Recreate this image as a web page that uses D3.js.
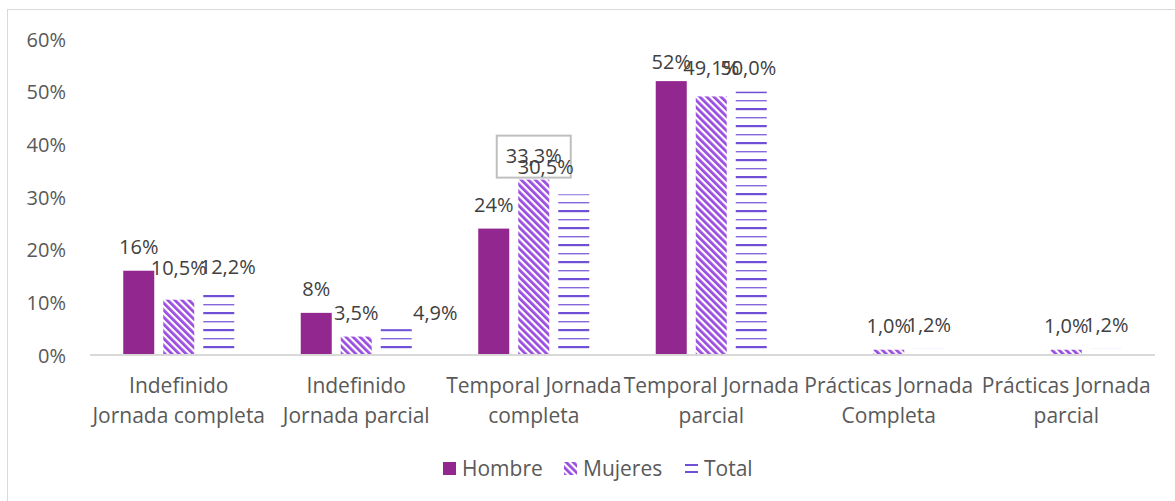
<!DOCTYPE html>
<html>
<head>
<meta charset="utf-8">
<title>Contratos por tipo</title>
<script src="https://cdn.jsdelivr.net/npm/d3@7"></script>
<style>
body { margin: 0; background: #fff; }
svg text { font-family: "Open Sans", sans-serif; }
.cat { fill: #595959; font-size: 21px; }
.lbl { fill: #404040; font-size: 20px; }
.leg { fill: #595959; font-size: 21px; }
</style>
</head>
<body>
<script>

var categories = [
  ["Indefinido", "Jornada completa"],
  ["Indefinido", "Jornada parcial"],
  ["Temporal Jornada", "completa"],
  ["Temporal Jornada", "parcial"],
  ["Prácticas Jornada", "Completa"],
  ["Prácticas Jornada", "parcial"]
];
var series = ["Hombre", "Mujeres", "Total"];
var hombre  = [0.16, 0.08, 0.24, 0.52, 0, 0];
var mujeres = [0.105, 0.035, 0.333, 0.491, 0.010, 0.010];
var total   = [0.122, 0.049, 0.305, 0.500, 0.012, 0.012];
var hombreLbl  = ["16%", "8%", "24%", "52%", "", ""];
var mujeresLbl = ["10,5%", "3,5%", "33,3%", "49,1%", "1,0%", "1,0%"];
var totalLbl   = ["12,2%", "4,9%", "30,5%", "50,0%", "1,2%", "1,2%"];
var yTicks = [0, 0.1, 0.2, 0.3, 0.4, 0.5, 0.6];

// label moves done by hand in the original
var nudge = {
  "Mujeres-0": [0, -8],
  "Total-0": [9, 0],
  "Total-1": [39, 8],
  "Total-2": [-28, -3],
  "Hombre-3": [0, 5],
  "Mujeres-3": [0, -4],
  "Total-3": [-3, 0]
};

var W = 1175, H = 501;
var mLeft = 90, mRight = 1155, mTop = 39, mBottom = 355;

var svg = d3.select("body").append("svg")
  .attr("width", W).attr("height", H);

var defs = svg.append("defs");
var pm = defs.append("pattern")
  .attr("id", "diag")
  .attr("patternUnits", "userSpaceOnUse")
  .attr("width", 5).attr("height", 5)
  .attr("patternTransform", "rotate(-45)");
pm.append("rect").attr("width", 5).attr("height", 5).attr("fill", "#fff");
pm.append("rect").attr("width", 2.8).attr("height", 5).attr("fill", "#9a4ddf");

var pt = defs.append("pattern")
  .attr("id", "horiz")
  .attr("patternUnits", "userSpaceOnUse")
  .attr("width", 10).attr("height", 17)
  .attr("y", mBottom);
pt.append("rect").attr("width", 10).attr("height", 17).attr("fill", "#fff");
pt.append("rect").attr("y", 8).attr("width", 10).attr("height", 2.2).attr("fill", "#7050d6");
pt.append("rect").attr("y", 0).attr("width", 10).attr("height", 1.4).attr("fill", "#8468dc");

var fills = {Hombre: "#92278f", Mujeres: "url(#diag)", Total: "url(#horiz)"};
var values = {Hombre: hombre, Mujeres: mujeres, Total: total};
var labels = {Hombre: hombreLbl, Mujeres: mujeresLbl, Total: totalLbl};

// outer chart border
svg.append("rect")
  .attr("x", 7.5).attr("y", 9.5)
  .attr("width", W).attr("height", H)
  .attr("fill", "none").attr("stroke", "#d9d9d9").attr("stroke-width", 1);

var x0 = d3.scaleBand()
  .domain(d3.range(categories.length))
  .range([mLeft, mRight]);

var x1 = d3.scaleBand()
  .domain(series)
  .range([0, x0.bandwidth()])
  .paddingInner(0.225)
  .paddingOuter(0.831);

var y = d3.scaleLinear()
  .domain([0, 0.6])
  .range([mBottom, mTop]);

// y axis
var yAxis = svg.append("g")
  .attr("transform", "translate(" + mLeft + ",0)")
  .call(d3.axisLeft(y).tickValues(yTicks).tickFormat(d3.format(".0%")).tickSize(0).tickPadding(24));
yAxis.select(".domain").remove();
yAxis.selectAll("text").attr("dy", "0.35em").style("font-size", "20px").style("font-family", "Open Sans").attr("fill", "#595959");

// bars
series.forEach(function(s) {
  svg.append("g").selectAll("rect")
    .data(values[s])
    .join("rect")
    .attr("x", function(d, i) { return x0(i) + x1(s); })
    .attr("y", function(d) { return y(d); })
    .attr("width", x1.bandwidth())
    .attr("height", function(d) { return mBottom - y(d); })
    .attr("fill", fills[s]);
});

// x axis line
svg.append("line")
  .attr("x1", mLeft).attr("x2", mRight)
  .attr("y1", mBottom).attr("y2", mBottom)
  .attr("stroke", "#d9d9d9").attr("stroke-width", 2);

// category labels
var cat = svg.append("g").selectAll("text")
  .data(categories)
  .join("text")
  .attr("class", "cat")
  .attr("text-anchor", "middle")
  .attr("x", function(d, i) { return x0(i) + x0.bandwidth() / 2; })
  .attr("y", mBottom + 38);
cat.append("tspan")
  .attr("x", function(d, i) { return x0(i) + x0.bandwidth() / 2; })
  .text(function(d) { return d[0]; });
cat.append("tspan")
  .attr("x", function(d, i) { return x0(i) + x0.bandwidth() / 2; })
  .attr("dy", 30)
  .text(function(d) { return d[1]; });

// box round selected label
var bx = x0(2) + x1("Mujeres") + x1.bandwidth() / 2;
svg.append("rect")
  .attr("x", bx - 37).attr("y", y(mujeres[2]) - 44)
  .attr("width", 74).attr("height", 42)
  .attr("fill", "none").attr("stroke", "#bfbfbf").attr("stroke-width", 2);

// data labels
series.forEach(function(s) {
  svg.append("g").selectAll("text")
    .data(values[s])
    .join("text")
    .attr("class", "lbl")
    .attr("text-anchor", "middle")
    .attr("x", function(d, i) {
      var n = nudge[s + "-" + i] || [0, 0];
      return x0(i) + x1(s) + x1.bandwidth() / 2 + n[0];
    })
    .attr("y", function(d, i) {
      var n = nudge[s + "-" + i] || [0, 0];
      return y(d) - 17 + n[1];
    })
    .text(function(d, i) { return labels[s][i]; });
});

// legend
var legX = [443, 564, 685];
var leg = svg.append("g").selectAll("g")
  .data(series)
  .join("g")
  .attr("transform", function(d, i) { return "translate(" + legX[i] + ",462)"; });
leg.append("rect")
  .attr("width", 13).attr("height", 13)
  .attr("fill", function(d) { return d == "Total" ? "#fff" : fills[d]; });
leg.filter(function(d) { return d == "Total"; }).each(function() {
  var g = d3.select(this);
  g.append("rect").attr("y", 2).attr("width", 13).attr("height", 2).attr("fill", "#7050d6");
  g.append("rect").attr("y", 9).attr("width", 13).attr("height", 2).attr("fill", "#7050d6");
});
leg.append("text")
  .attr("class", "leg")
  .attr("x", 19)
  .attr("y", 14)
  .text(function(d) { return d; });

</script>
</body>
</html>
